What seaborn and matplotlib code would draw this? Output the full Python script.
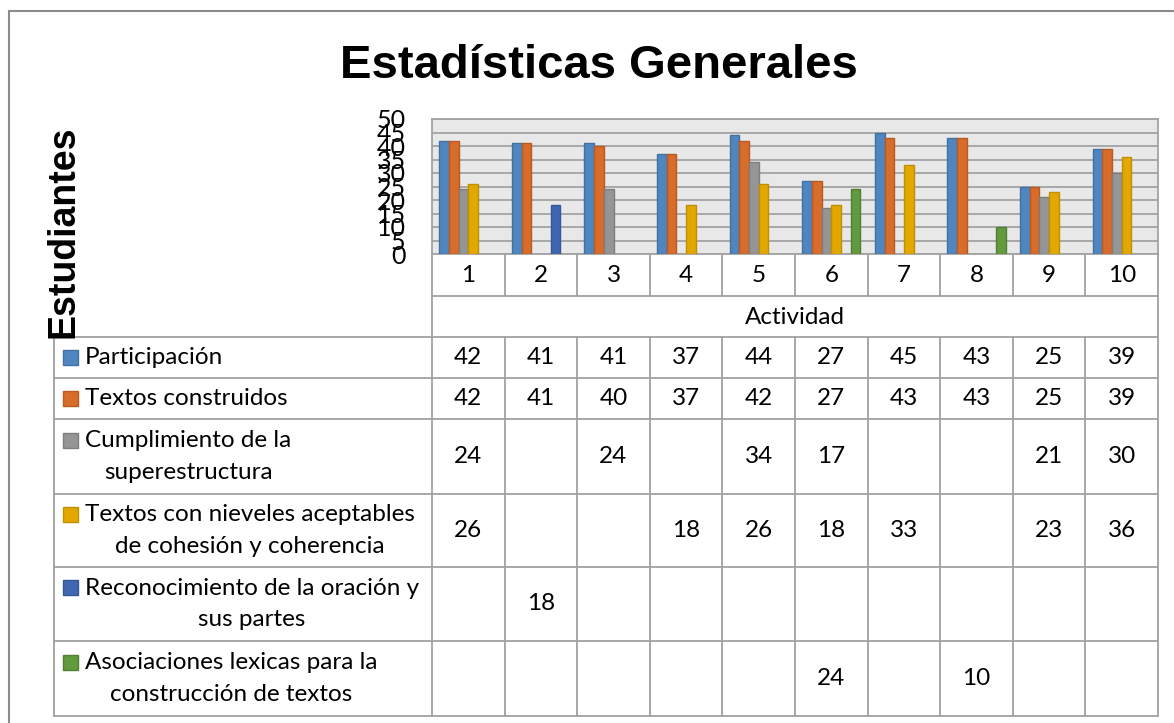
import numpy as np
import pandas as pd
import seaborn as sns
import matplotlib.pyplot as plt
import matplotlib.transforms as mtransforms
from matplotlib.patches import Rectangle

# datos del grafico
actividades = ['1', '2', '3', '4', '5', '6', '7', '8', '9', '10']
series = ['Participación',
          'Textos construidos',
          'Cumplimiento de la superestructura',
          'Textos con nieveles aceptables de cohesión y coherencia',
          'Reconocimiento de la oración y sus partes',
          'Asociaciones lexicas para la construcción de textos']
etiquetas_tabla = ['Participación',
                   'Textos construidos',
                   'Cumplimiento de la\nsuperestructura',
                   'Textos con nieveles aceptables\nde cohesión y coherencia',
                   'Reconocimiento de la oración y\nsus partes',
                   'Asociaciones lexicas para la\nconstrucción de textos']
participacion = [42, 41, 41, 37, 44, 27, 45, 43, 25, 39]
textos_construidos = [42, 41, 40, 37, 42, 27, 43, 43, 25, 39]
cumplimiento = [24, None, 24, None, 34, 17, None, None, 21, 30]
cohesion = [26, None, None, 18, 26, 18, 33, None, 23, 36]
reconocimiento = [None, 18, None, None, None, None, None, None, None, None]
asociaciones = [None, None, None, None, None, 24, None, 10, None, None]
valores = [participacion, textos_construidos, cumplimiento, cohesion,
           reconocimiento, asociaciones]

colores = ['#4F86C0', '#D86C2A', '#959595', '#E2A800', '#3F67B1', '#629A3E']
bordes = ['#41729F', '#B85A22', '#7D7D7D', '#BF9000', '#34579A', '#527F34']

rows = []
for s, vals in zip(series, valores):
    for a, v in zip(actividades, vals):
        if v is not None:
            rows.append({'Actividad': a, 'Serie': s, 'Estudiantes': v})
df = pd.DataFrame(rows)

sns.set_style('white')
plt.rcParams['font.family'] = ['Lato', 'DejaVu Sans']
plt.rcParams['text.color'] = 'black'

W, H = 1174, 723
fig = plt.figure(figsize=(W / 100, H / 100), dpi=100)

# capa de fondo en pixeles para la tabla y los bordes
bg = fig.add_axes([0, 0, 1, 1])
bg.set_xlim(0, W)
bg.set_ylim(H, 0)
bg.axis('off')

x0, x1 = 432, 1158
ytop, ybot = 119, 254
ax = fig.add_axes([x0 / W, 1 - ybot / H, (x1 - x0) / W, (ybot - ytop) / H])
sns.barplot(data=df, x='Actividad', y='Estudiantes', hue='Serie',
            order=actividades, hue_order=series, palette=colores,
            saturation=1, width=0.8, legend=False, ax=ax, zorder=3)
for cont, b in zip(ax.containers, bordes):
    for bar in cont:
        bar.set_edgecolor(b)
        bar.set_linewidth(1.0)

ax.set_facecolor('#E8E8E8')
ax.set_xlim(-0.5, 9.5)
ax.set_ylim(0, 50)
ax.set_yticks(np.arange(0, 51, 5))
ax.yaxis.grid(True, color='#A3A3A3', lw=1.3, zorder=1)
ax.set_axisbelow(True)
ax.set_xticks([])
ax.set_xlabel('')
ax.set_ylabel('')
ax.tick_params(axis='y', length=0, pad=19, labelsize=18, labelcolor='black')
for sp in ax.spines.values():
    sp.set_color('#A3A3A3')
    sp.set_linewidth(1.3)

# tabla de datos
tr = mtransforms.blended_transform_factory(ax.transData, bg.transData)
lc = '#A0A0A0'
lw = 1.3
fs = 17.5
row_edges = [337, 378, 419, 494, 567, 641, 716]
tab_left = 54
bg.plot([x0, x1], [296, 296], color=lc, lw=lw)
for y in row_edges:
    bg.plot([tab_left, x1], [y, y], color=lc, lw=lw)
bg.plot([tab_left, tab_left], [337, 716], color=lc, lw=lw)
bg.plot([x0, x0], [ybot, 716], color=lc, lw=lw)
bg.plot([x1, x1], [ybot, 716], color=lc, lw=lw)
for i in range(len(actividades) - 1):
    ax_x = i + 0.5
    bg.plot([ax_x, ax_x], [ybot, 296], color=lc, lw=lw, transform=tr)
    bg.plot([ax_x, ax_x], [337, 716], color=lc, lw=lw, transform=tr)

for i, a in enumerate(actividades):
    bg.text(i, 275, a, ha='center', va='center', fontsize=fs, transform=tr)
bg.text((x0 + x1) / 2, 317, 'Actividad', ha='center', va='center', fontsize=fs)

line_h = 33
for k, (lab, vals) in enumerate(zip(etiquetas_tabla, valores)):
    yc = (row_edges[k] + row_edges[k + 1]) / 2
    nl = lab.count('\n') + 1
    y1 = yc - (nl - 1) * line_h / 2
    bg.add_patch(Rectangle((63, y1 - 7.5), 15, 15, facecolor=colores[k],
                           edgecolor=bordes[k], lw=1))
    bg.text(85, yc, lab, ha='left', va='center', multialignment='center',
            fontsize=fs, linespacing=1.6)
    for i, v in enumerate(vals):
        if v is not None:
            bg.text(i, yc, str(v), ha='center', va='center', fontsize=fs,
                    transform=tr)

# borde del grafico
bg.plot([9, 9], [11, H], color='#8C8C8C', lw=1.5)
bg.plot([9, W], [11, 11], color='#8C8C8C', lw=1.5)

bg.text(599, 78, 'Estadísticas Generales', ha='center', va='baseline',
        fontsize=34, fontweight='bold', family='Liberation Sans')
bg.text(64, 232, 'Estudiantes', ha='center', va='center', rotation=90,
        fontsize=27, fontweight='bold', family='Liberation Sans')

fig.savefig('out.png', dpi=100)
